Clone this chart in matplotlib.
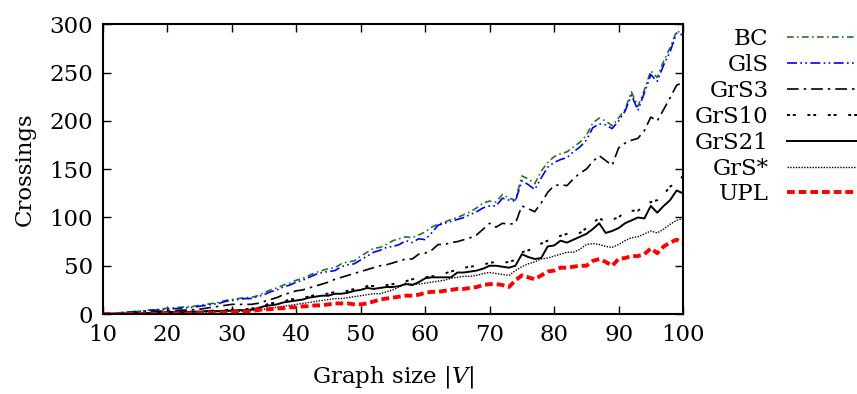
import matplotlib
matplotlib.use('Agg')
import matplotlib.pyplot as plt

sizes = list(range(10, 101))

bc = [0, 0.5, 1, 1.5, 2, 2.5, 3, 4, 4.5, 5,
      6, 6.5, 7, 7.5, 8, 9, 10, 11, 12, 14,
      15, 16, 17, 17, 19, 22, 25, 27, 30, 32,
      35, 37, 40, 43, 45, 47, 48, 52, 54, 55,
      60, 64, 68, 69, 72, 76, 78, 80, 79, 82,
      85, 90, 93, 95, 98, 100, 103, 106, 110, 115,
      117, 116, 124, 120, 118, 143, 140, 135, 148, 157,
      163, 166, 168, 173, 178, 185, 198, 203, 200, 195,
      203, 212, 230, 215, 232, 252, 245, 262, 276, 293,
      291]
gls = [0, 0.5, 1, 1.5, 2, 2.5, 3, 3.5, 4, 4.5,
       5, 5.5, 6, 6.5, 7, 8, 9, 10, 11, 13,
       14, 15, 16, 16, 18, 20, 23, 25, 28, 30,
       33, 35, 38, 41, 43, 44, 45, 49, 51, 52,
       56, 60, 64, 66, 69, 70, 72, 76, 74, 78,
       77, 84, 92, 94, 96, 98, 100, 103, 106, 110,
       112, 112, 120, 118, 117, 138, 134, 129, 141, 152,
       157, 160, 162, 168, 173, 180, 193, 197, 196, 192,
       200, 210, 227, 211, 229, 248, 241, 258, 272, 291,
       289]
grs3 = [0, 0, 0.5, 1, 1, 1.5, 2, 2, 2.5, 3,
        3, 3.5, 4, 4, 4.5, 5, 6, 7, 8, 9,
        10, 10, 10, 10, 11, 13, 15, 17, 20, 22,
        24, 25, 27, 29, 31, 33, 36, 38, 40, 42,
        44, 46, 48, 50, 51, 53, 55, 57, 57, 62,
        63, 66, 72, 72, 74, 75, 77, 79, 82, 88,
        94, 90, 94, 93, 94, 112, 109, 106, 115, 126,
        133, 134, 133, 140, 146, 150, 158, 164, 159, 154,
        172, 177, 180, 182, 190, 204, 200, 212, 224, 237,
        240]
grs10 = [0, 0, 0, 0.5, 0.5, 1, 1, 1, 1.5, 1.5,
         2, 2, 2, 2.5, 2.5, 3, 3, 3.5, 4, 4,
         4.5, 5, 5, 5.5, 7, 9, 11, 12, 13, 15,
         16, 17, 18, 20, 21, 21, 23, 23, 24, 26,
         27, 29, 29, 30, 30, 31, 33, 34, 36, 37,
         38, 39, 40, 42, 44, 46, 48, 49, 50, 51,
         53, 54, 53, 54, 56, 64, 66, 68, 73, 76,
         79, 81, 83, 82, 84, 89, 95, 99, 96, 98,
         100, 106, 107, 107, 112, 116, 118, 124, 132, 136,
         143]
grs21 = [0, 0, 0, 0, 0.5, 0.5, 1, 1, 1, 1.5,
         1.5, 2, 2, 2, 2.5, 2.5, 3, 3, 3, 3.5,
         3.5, 4, 4, 4.5, 6, 8, 9, 10, 12, 13,
         14, 15, 17, 18, 19, 19, 21, 21, 22, 24,
         25, 27, 26, 27, 28, 28, 29, 31, 30, 33,
         37, 38, 38, 38, 38, 43, 43, 44, 45, 47,
         50, 50, 49, 48, 50, 62, 59, 57, 58, 70,
         71, 76, 74, 77, 80, 83, 88, 94, 84, 86,
         89, 94, 97, 100, 99, 112, 105, 112, 118, 128,
         125]
grs_star = [0, 0, 0, 0, 0, 0.5, 0.5, 0.5, 1, 1,
            1, 1, 1.5, 1.5, 1.5, 2, 2, 2, 2.5, 2.5,
            3, 3, 3, 3.5, 4, 5, 6, 7, 8, 9,
            10, 11, 12, 13, 14, 15, 16, 16, 17, 18,
            19, 20, 21, 21, 23, 25, 28, 32, 31, 31,
            32, 33, 34, 35, 37, 38, 39, 39, 40, 42,
            43, 42, 41, 40, 45, 49, 52, 54, 57, 58,
            60, 62, 64, 64, 67, 72, 73, 72, 70, 69,
            72, 76, 79, 80, 83, 86, 84, 88, 93, 97,
            99]
upl = [0, 0, 0, 0, 0, 0, 0, 0, 0, 0.5,
       0.5, 0.5, 0.5, 0.5, 1, 1, 1, 1, 1.5, 1.5,
       2, 2, 2.5, 3, 4, 5, 5, 6, 6, 7,
       7, 8, 8, 9, 9, 10, 11, 11, 11, 10,
       10, 11, 13, 15, 16, 17, 18, 19, 19, 20,
       22, 23, 23, 24, 25, 26, 26, 27, 28, 30,
       31, 31, 30, 28, 35, 40, 38, 36, 40, 44,
       45, 48, 48, 49, 50, 50, 55, 57, 54, 50,
       57, 58, 60, 60, 62, 68, 63, 70, 74, 77,
       74]

plt.rcParams['font.family'] = 'DejaVu Serif'
plt.rcParams['mathtext.fontset'] = 'dejavuserif'
fs = 16.5

fig = plt.figure(figsize=(8.57, 3.94), dpi=100)
ax = fig.add_axes([0.120, 0.203, 0.677, 0.735])

ax.plot(sizes, bc, color='#1f7a1f', lw=1.2, dashes=(4, 2, 1, 2), label='BC')
ax.plot(sizes, gls, color='#0000ff', lw=1.2, dashes=(6, 2, 1, 2, 1, 2), label='GlS')
ax.plot(sizes, grs3, color='black', lw=1.2, dashes=(7, 3, 1.5, 3), label='GrS3')
ax.plot(sizes, grs10, color='black', lw=1.4, dashes=(1.5, 1.5, 1.5, 6), label='GrS10')
ax.plot(sizes, grs21, color='black', lw=1.4, label='GrS21')
ax.plot(sizes, grs_star, color='black', lw=1.0, dashes=(1, 1), label='GrS*')
ax.plot(sizes, upl, color='#ff0000', lw=2.8, dashes=(2, 1), label='UPL')

ax.set_xlim(10, 100)
ax.set_ylim(0, 300)
ax.set_xticks(range(10, 101, 10))
ax.set_yticks(range(0, 301, 50))
ax.tick_params(direction='in', top=True, right=True, length=6, width=1,
               labelsize=fs, pad=7)
for s in ax.spines.values():
    s.set_linewidth(1.5)

ax.set_xlabel('Graph size $|V|$', fontsize=fs, labelpad=13)
ax.set_ylabel('Crossings', fontsize=fs, labelpad=10)

ax.legend(loc='upper left', bbox_to_anchor=(0.80, 0.952), bbox_transform=fig.transFigure,
          frameon=False, markerfirst=False, fontsize=fs, handlelength=3.3,
          labelspacing=0.17, borderaxespad=0, handletextpad=0.8)

fig.savefig('out.png', dpi=100)
